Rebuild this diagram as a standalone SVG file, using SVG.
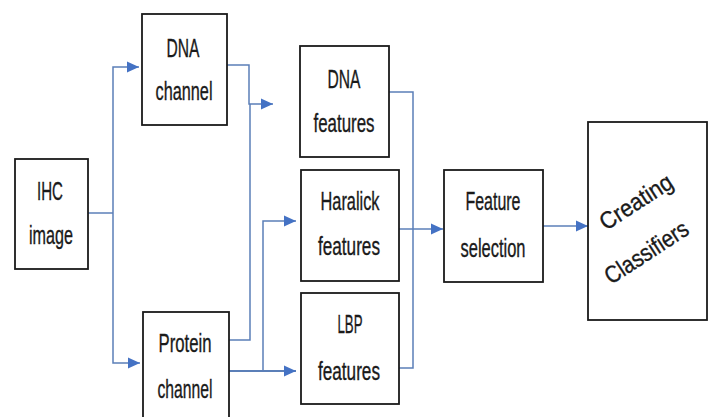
<svg xmlns="http://www.w3.org/2000/svg" width="709" height="417" viewBox="0 0 709 417">
  <style>
    .box { fill: #ffffff; stroke: #1a1a1a; stroke-width: 1.8; }
    .lbl { font-family: "Liberation Sans", Arial, sans-serif; font-size: 25px; fill: #1a1a1a; stroke: #1a1a1a; stroke-width: 0.35; text-anchor: middle; }
    .big { font-family: "Liberation Sans", Arial, sans-serif; font-size: 24px; fill: #1a1a1a; stroke: #1a1a1a; stroke-width: 0.35; }
    .wire { fill: none; stroke: #5b7fb8; stroke-width: 1.5; }
    .wire.arrow { marker-end: url(#head); }
  </style>
  <defs>
    <marker id="head" markerUnits="userSpaceOnUse" markerWidth="13" markerHeight="13" refX="12" refY="6.5" orient="auto">
      <path d="M0,1 L12,6.5 L0,12 Z" fill="#4472c4"/>
    </marker>
  </defs>
  <rect width="709" height="417" fill="#ffffff"/>

  <g id="connectors">
    <path class="wire" d="M88,213 H113"/>
    <path class="wire arrow" d="M113,213 V67 H139"/>
    <path class="wire arrow" d="M113,213 V363 H140"/>
    <path class="wire arrow" d="M227,65 H249 V104 H273"/>
    <path class="wire" d="M229,340 H250 V104"/>
    <path class="wire arrow" d="M229,371 H296" style="stroke-width:2"/>
    <path class="wire arrow" d="M263,371 V221 H296"/>
    <path class="wire" d="M389,92 H413 V368 H399"/>
    <path class="wire arrow" d="M399,229 H443"/>
    <path class="wire arrow" d="M543,226 H588"/>
  </g>

  <g id="ihc-image">
    <rect class="box" x="15" y="159" width="73" height="110"/>
    <text class="lbl" x="50" y="200" textLength="26" lengthAdjust="spacingAndGlyphs">IHC</text>
    <text class="lbl" x="51" y="244" textLength="44" lengthAdjust="spacingAndGlyphs">image</text>
  </g>

  <g id="dna-channel">
    <rect class="box" x="142" y="14" width="85" height="111"/>
    <text class="lbl" x="183" y="57" textLength="33" lengthAdjust="spacingAndGlyphs">DNA</text>
    <text class="lbl" x="184" y="100" textLength="57" lengthAdjust="spacingAndGlyphs">channel</text>
  </g>

  <g id="protein-channel">
    <rect class="box" x="143" y="312" width="86" height="112"/>
    <text class="lbl" x="185" y="352" textLength="53" lengthAdjust="spacingAndGlyphs">Protein</text>
    <text class="lbl" x="185" y="398" textLength="55" lengthAdjust="spacingAndGlyphs">channel</text>
  </g>

  <g id="dna-features">
    <rect class="box" x="300" y="46" width="89" height="111"/>
    <text class="lbl" x="344" y="88" textLength="33" lengthAdjust="spacingAndGlyphs">DNA</text>
    <text class="lbl" x="344" y="132" textLength="61" lengthAdjust="spacingAndGlyphs">features</text>
  </g>

  <g id="haralick-features">
    <rect class="box" x="301" y="170" width="98" height="111"/>
    <text class="lbl" x="350" y="210" textLength="59" lengthAdjust="spacingAndGlyphs">Haralick</text>
    <text class="lbl" x="349" y="255" textLength="62" lengthAdjust="spacingAndGlyphs">features</text>
  </g>

  <g id="lbp-features">
    <rect class="box" x="301" y="293" width="98" height="111"/>
    <text class="lbl" x="350" y="333" textLength="25" lengthAdjust="spacingAndGlyphs">LBP</text>
    <text class="lbl" x="349" y="380" textLength="62" lengthAdjust="spacingAndGlyphs">features</text>
  </g>

  <g id="feature-selection">
    <rect class="box" x="444" y="170" width="99" height="112"/>
    <text class="lbl" x="493" y="210" textLength="55" lengthAdjust="spacingAndGlyphs">Feature</text>
    <text class="lbl" x="493" y="257" textLength="65" lengthAdjust="spacingAndGlyphs">selection</text>
  </g>

  <g id="creating-classifiers">
    <rect class="box" x="588" y="122" width="119" height="198"/>
    <text class="big" transform="translate(606,231) rotate(-33)" textLength="82" lengthAdjust="spacingAndGlyphs">Creating</text>
    <text class="big" transform="translate(611,285) rotate(-33)" textLength="95" lengthAdjust="spacingAndGlyphs">Classifiers</text>
  </g>
</svg>
